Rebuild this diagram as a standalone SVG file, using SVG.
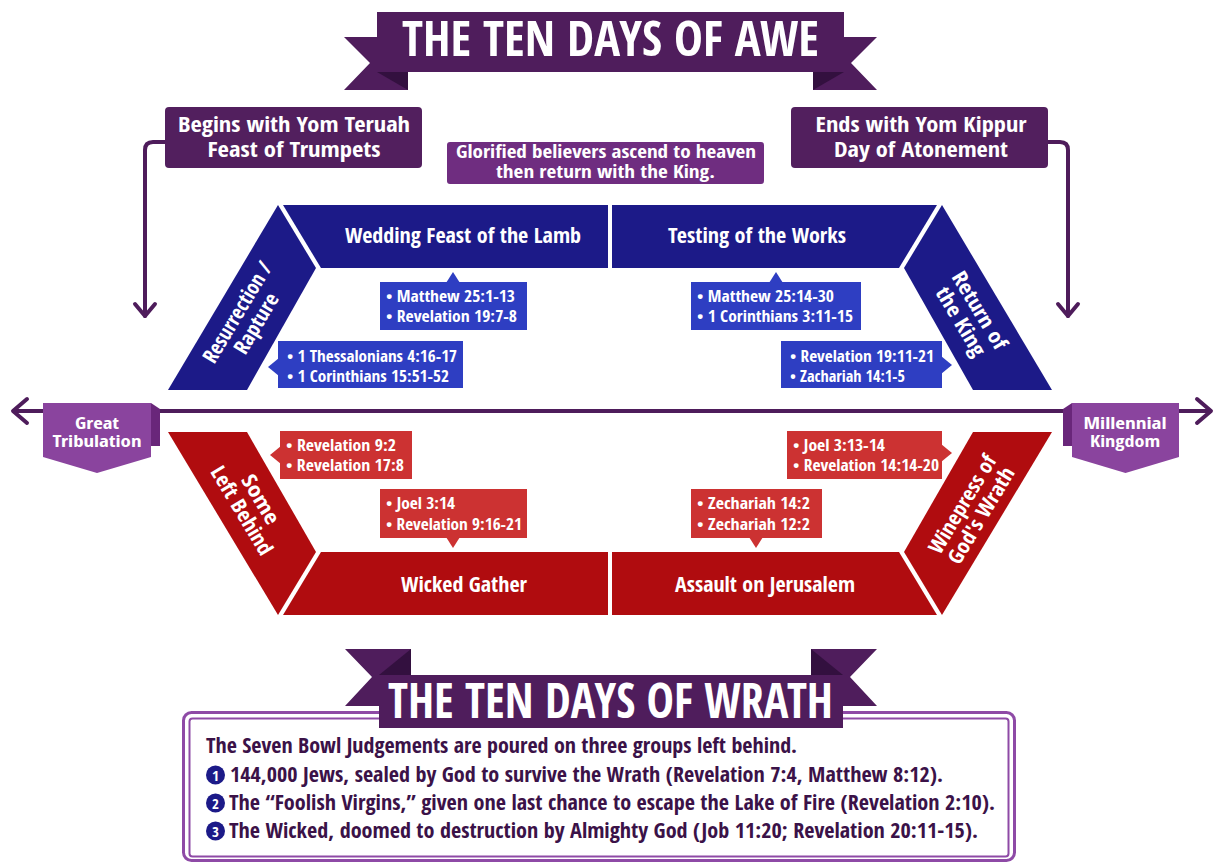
<svg xmlns="http://www.w3.org/2000/svg" width="1217" height="863" viewBox="0 0 1217 863">
<style>
.t{font-family:'Open Sans Condensed','Roboto Condensed','Liberation Sans Narrow','Open Sans','Liberation Sans',sans-serif;font-weight:700;fill:#fff}
.mid{text-anchor:middle}
.ban{fill:#4f1d5c}
.fold{fill:#33103f}
.lbl{fill:#521f5e}
.flag{fill:#8a449e}
.flagd{fill:#69267a}
.blue{fill:#1c1a88}
.bcall{fill:#2e3ec2}
.red{fill:#b00c0f}
.rcall{fill:#cc3232}
.conn{fill:none;stroke:#4e1c5b;stroke-width:4;stroke-linecap:round;stroke-linejoin:round}
.box{fill:#3b1248}
.numc{fill:#1c1a88}
</style>
<rect width="1217" height="863" fill="#fff"/>

<g id="connectors">
  <path class="conn" d="M165,142 H153 Q145,142 145,150 V316"/>
  <path class="conn" d="M135,304 L145,316 L155,304"/>
  <path class="conn" d="M1048,142 H1060 Q1068,142 1068,150 V316"/>
  <path class="conn" d="M1058,304 L1068,316 L1078,304"/>
  <path class="conn" d="M14,411 H1210"/>
  <path class="conn" d="M27,399 L13,411 L27,423"/>
  <path class="conn" d="M1197,399 L1211,411 L1197,423"/>
</g>

<g id="title-awe">
  <polygon class="ban" points="344,37 408,37 408,90 344,90 370,63"/>
  <polygon class="ban" points="877,37 813,37 813,90 877,90 851,63"/>
  <polygon class="fold" points="377,72 408,72 408,90"/>
  <polygon class="fold" points="844,72 813,72 813,90"/>
  <rect class="ban" x="377" y="12" width="467" height="60"/>
  <text class="t mid" x="610.5" y="56" font-size="48" textLength="417" lengthAdjust="spacingAndGlyphs">THE TEN DAYS OF AWE</text>
</g>

<g id="begins">
  <rect class="lbl" x="165" y="107" width="257" height="61" rx="4"/>
  <text class="t mid" x="294" y="132" font-size="21" textLength="232" lengthAdjust="spacingAndGlyphs">Begins with Yom Teruah</text>
  <text class="t mid" x="294" y="157" font-size="21" textLength="173" lengthAdjust="spacingAndGlyphs">Feast of Trumpets</text>
</g>

<g id="ends">
  <rect class="lbl" x="791" y="107" width="257" height="61" rx="4"/>
  <text class="t mid" x="921" y="132" font-size="21" textLength="211" lengthAdjust="spacingAndGlyphs">Ends with Yom Kippur</text>
  <text class="t mid" x="921" y="157" font-size="21" textLength="174" lengthAdjust="spacingAndGlyphs">Day of Atonement</text>
</g>

<g id="glorified">
  <rect x="447" y="142" width="317" height="42" rx="3" fill="#6f2d80"/>
  <text class="t mid" x="606" y="158" font-size="17" textLength="300" lengthAdjust="spacingAndGlyphs">Glorified believers ascend to heaven</text>
  <text class="t mid" x="605.5" y="178" font-size="17" textLength="219" lengthAdjust="spacingAndGlyphs">then return with the King.</text>
</g>

<g id="resurrection">
  <polygon class="blue" points="278,205 316,268 247,390 168,390"/>
  <g transform="translate(247,318) rotate(-59)">
    <text class="t mid" x="0" y="-4" font-size="21" textLength="114" lengthAdjust="spacingAndGlyphs">Resurrection /</text>
    <text class="t mid" x="0" y="18" font-size="21" textLength="67" lengthAdjust="spacingAndGlyphs">Rapture</text>
  </g>
</g>

<g id="wedding">
  <polygon class="blue" points="283,205 608,205 608,268 321,268"/>
  <text class="t mid" x="463" y="243" font-size="22" textLength="236" lengthAdjust="spacingAndGlyphs">Wedding Feast of the Lamb</text>
</g>

<g id="testing">
  <polygon class="blue" points="612,205 937,205 899,268 612,268"/>
  <text class="t mid" x="757" y="243" font-size="22" textLength="178" lengthAdjust="spacingAndGlyphs">Testing of the Works</text>
</g>

<g id="return">
  <polygon class="blue" points="942,205 1052,390 973,390 904,268"/>
  <g transform="translate(970,316) rotate(59)">
    <text class="t mid" x="0" y="-4" font-size="21" textLength="87" lengthAdjust="spacingAndGlyphs">Return of</text>
    <text class="t mid" x="0" y="18" font-size="21" textLength="77" lengthAdjust="spacingAndGlyphs">the King</text>
  </g>
</g>

<g id="callout-matthew25-1">
  <rect class="bcall" x="380" y="282" width="147" height="48"/>
  <polygon class="bcall" points="446,283 453,272 460,283"/>
  <text class="t" x="386" y="302" font-size="16" textLength="129" lengthAdjust="spacingAndGlyphs">• Matthew 25:1-13</text>
  <text class="t" x="386" y="322" font-size="16" textLength="131" lengthAdjust="spacingAndGlyphs">• Revelation 19:7-8</text>
</g>

<g id="callout-matthew25-14">
  <rect class="bcall" x="691" y="282" width="170" height="48"/>
  <polygon class="bcall" points="769,283 776,272 783,283"/>
  <text class="t" x="697" y="302" font-size="16" textLength="137" lengthAdjust="spacingAndGlyphs">• Matthew 25:14-30</text>
  <text class="t" x="697" y="322" font-size="16" textLength="156" lengthAdjust="spacingAndGlyphs">• 1 Corinthians 3:11-15</text>
</g>

<g id="callout-thess">
  <rect class="bcall" x="278" y="341" width="185" height="47"/>
  <polygon class="bcall" points="279,358 268,367 279,376"/>
  <text class="t" x="287" y="362" font-size="16" textLength="170" lengthAdjust="spacingAndGlyphs">• 1 Thessalonians 4:16-17</text>
  <text class="t" x="287" y="382" font-size="16" textLength="162" lengthAdjust="spacingAndGlyphs">• 1 Corinthians 15:51-52</text>
</g>

<g id="callout-rev19">
  <rect class="bcall" x="781" y="341" width="161" height="47"/>
  <polygon class="bcall" points="941,356 952,365 941,374"/>
  <text class="t" x="790" y="362" font-size="16" textLength="144" lengthAdjust="spacingAndGlyphs">• Revelation 19:11-21</text>
  <text class="t" x="790" y="382" font-size="16" textLength="115" lengthAdjust="spacingAndGlyphs">• Zachariah 14:1-5</text>
</g>

<g id="great-tribulation">
  <polygon class="flagd" points="151,403 160,409 160,446 151,446"/>
  <polygon class="flag" points="43,403 151,403 151,457 97,473 43,457"/>
  <text class="t mid" x="97" y="429" font-size="16" textLength="44" lengthAdjust="spacingAndGlyphs">Great</text>
  <text class="t mid" x="97" y="447" font-size="16" textLength="89" lengthAdjust="spacingAndGlyphs">Tribulation</text>
</g>

<g id="millennial-kingdom">
  <polygon class="flagd" points="1072,403 1063,409 1063,446 1072,446"/>
  <polygon class="flag" points="1072,403 1179,403 1179,457 1125.5,473 1072,457"/>
  <text class="t mid" x="1125" y="429" font-size="16" textLength="83" lengthAdjust="spacingAndGlyphs">Millennial</text>
  <text class="t mid" x="1125" y="447" font-size="16" textLength="70" lengthAdjust="spacingAndGlyphs">Kingdom</text>
</g>

<g id="some-left-behind">
  <polygon class="red" points="168,432 247,432 316,552 278,615"/>
  <g transform="translate(251,505) rotate(59)">
    <text class="t mid" x="0" y="-4" font-size="21" textLength="54" lengthAdjust="spacingAndGlyphs">Some</text>
    <text class="t mid" x="0" y="18" font-size="21" textLength="100" lengthAdjust="spacingAndGlyphs">Left Behind</text>
  </g>
</g>

<g id="wicked-gather">
  <polygon class="red" points="321,552 608,552 608,615 283,615"/>
  <text class="t mid" x="464" y="592" font-size="22" textLength="126" lengthAdjust="spacingAndGlyphs">Wicked Gather</text>
</g>

<g id="assault">
  <polygon class="red" points="612,552 899,552 937,615 612,615"/>
  <text class="t mid" x="765" y="592" font-size="22" textLength="180" lengthAdjust="spacingAndGlyphs">Assault on Jerusalem</text>
</g>

<g id="winepress">
  <polygon class="red" points="973,432 1052,432 942,615 904,552"/>
  <g transform="translate(972,510) rotate(-59)">
    <text class="t mid" x="0" y="-4" font-size="21" textLength="111" lengthAdjust="spacingAndGlyphs">Winepress of</text>
    <text class="t mid" x="0" y="18" font-size="21" textLength="109" lengthAdjust="spacingAndGlyphs">God's Wrath</text>
  </g>
</g>

<g id="callout-rev9-2">
  <rect class="rcall" x="280" y="431" width="132" height="48"/>
  <polygon class="rcall" points="281,446 270,455 281,464"/>
  <text class="t" x="286" y="451" font-size="16" textLength="110" lengthAdjust="spacingAndGlyphs">• Revelation 9:2</text>
  <text class="t" x="286" y="471" font-size="16" textLength="118" lengthAdjust="spacingAndGlyphs">• Revelation 17:8</text>
</g>

<g id="callout-joel3-14">
  <rect class="rcall" x="380" y="489" width="147" height="49"/>
  <polygon class="rcall" points="446,537 453,548 460,537"/>
  <text class="t" x="386" y="509" font-size="16" textLength="69" lengthAdjust="spacingAndGlyphs">• Joel 3:14</text>
  <text class="t" x="386" y="530" font-size="16" textLength="136" lengthAdjust="spacingAndGlyphs">• Revelation 9:16-21</text>
</g>

<g id="callout-zech">
  <rect class="rcall" x="691" y="489" width="131" height="49"/>
  <polygon class="rcall" points="749,537 756,548 763,537"/>
  <text class="t" x="697" y="509" font-size="16" textLength="113" lengthAdjust="spacingAndGlyphs">• Zechariah 14:2</text>
  <text class="t" x="697" y="530" font-size="16" textLength="113" lengthAdjust="spacingAndGlyphs">• Zechariah 12:2</text>
</g>

<g id="callout-joel3-13">
  <rect class="rcall" x="787" y="431" width="155" height="48"/>
  <polygon class="rcall" points="941,444 952,453 941,462"/>
  <text class="t" x="793" y="451" font-size="16" textLength="92" lengthAdjust="spacingAndGlyphs">• Joel 3:13-14</text>
  <text class="t" x="793" y="471" font-size="16" textLength="146" lengthAdjust="spacingAndGlyphs">• Revelation 14:14-20</text>
</g>

<g id="wrath-box">
  <rect x="183.5" y="712.5" width="831" height="148" rx="8" fill="#fff" stroke="#8e4aa6" stroke-width="3"/>
  <rect x="189.5" y="718.5" width="819" height="138" rx="3" fill="none" stroke="#8e4aa6" stroke-width="2"/>
  <text class="t box" x="206" y="753" font-size="22" textLength="591" lengthAdjust="spacingAndGlyphs">The Seven Bowl Judgements are poured on three groups left behind.</text>
  <circle class="numc" cx="215.5" cy="775" r="9.5"/>
  <text class="t mid" x="215.5" y="780.5" font-size="15">1</text>
  <text class="t box" x="230" y="782" font-size="22" textLength="713" lengthAdjust="spacingAndGlyphs">144,000 Jews, sealed by God to survive the Wrath (Revelation 7:4, Matthew 8:12).</text>
  <circle class="numc" cx="215.5" cy="803" r="9.5"/>
  <text class="t mid" x="215.5" y="808.5" font-size="15">2</text>
  <text class="t box" x="229" y="810" font-size="22" textLength="766" lengthAdjust="spacingAndGlyphs">The “Foolish Virgins,” given one last chance to escape the Lake of Fire (Revelation 2:10).</text>
  <circle class="numc" cx="215.5" cy="831" r="9.5"/>
  <text class="t mid" x="215.5" y="836.5" font-size="15">3</text>
  <text class="t box" x="229" y="838" font-size="22" textLength="749" lengthAdjust="spacingAndGlyphs">The Wicked, doomed to destruction by Almighty God (Job 11:20; Revelation 20:11-15).</text>
</g>

<g id="title-wrath">
  <polygon class="ban" points="345,649 411,649 411,706 345,706 372,677"/>
  <polygon class="ban" points="877,649 811,649 811,706 877,706 850,677"/>
  <polygon class="fold" points="379,675 411,649 411,675"/>
  <polygon class="fold" points="843,675 811,649 811,675"/>
  <rect class="ban" x="379" y="675" width="464" height="53"/>
  <text class="t mid" x="610.5" y="718" font-size="48" textLength="445" lengthAdjust="spacingAndGlyphs">THE TEN DAYS OF WRATH</text>
</g>
</svg>
